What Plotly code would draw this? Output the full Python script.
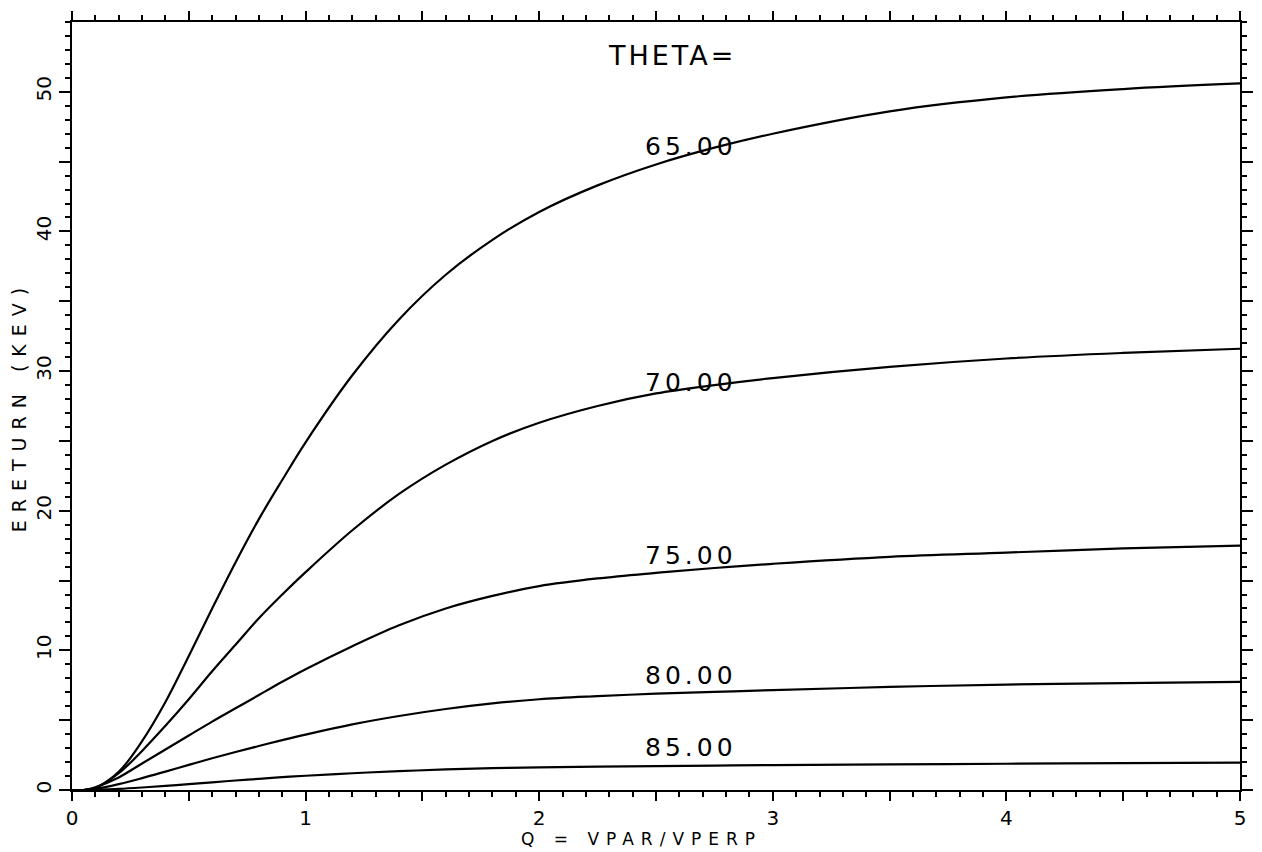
import numpy as np
import plotly.graph_objects as go

# ---- data ----
q = [0, 0.05, 0.1, 0.2, 0.3, 0.4, 0.5, 0.6, 0.7, 0.8, 0.9, 1.0, 1.2, 1.4, 1.6,
     1.8, 2.0, 2.25, 2.5, 2.75, 3.0, 3.5, 4.0, 4.5, 5.0]

e_theta65 = [0, 0.0, 0.15, 1.3, 3.5, 6.3, 9.6, 13.0, 16.3, 19.4, 22.2, 24.9, 29.7,
             33.7, 36.9, 39.4, 41.4, 43.3, 44.8, 46.0, 47.0, 48.6, 49.6, 50.2, 50.6]
e_theta70 = [0, 0.0, 0.15, 1.2, 2.8, 4.6, 6.5, 8.5, 10.4, 12.3, 14.0, 15.6, 18.6,
             21.2, 23.3, 25.0, 26.3, 27.5, 28.4, 29.0, 29.5, 30.3, 30.9, 31.3, 31.6]
e_theta75 = [0, 0.0, 0.2, 0.9, 1.9, 2.9, 3.9, 4.9, 5.85, 6.8, 7.75, 8.65, 10.3,
             11.8, 13.0, 13.9, 14.6, 15.15, 15.55, 15.9, 16.2, 16.7, 17.0, 17.3, 17.5]
e_theta80 = [0, 0.0, 0.08, 0.42, 0.85, 1.32, 1.8, 2.27, 2.72, 3.15, 3.57, 3.97, 4.7,
             5.3, 5.8, 6.2, 6.5, 6.72, 6.9, 7.03, 7.15, 7.38, 7.55, 7.66, 7.75]
e_theta85 = [0, 0.0, 0.02, 0.08, 0.18, 0.3, 0.42, 0.55, 0.68, 0.8, 0.92, 1.02, 1.2,
             1.35, 1.47, 1.56, 1.62, 1.67, 1.71, 1.75, 1.78, 1.83, 1.88, 1.92, 1.96]

curve_labels = ["65.00", "70.00", "75.00", "80.00", "85.00"]
curves = [e_theta65, e_theta70, e_theta75, e_theta80, e_theta85]

x_tickvals = [0, 0.5, 1, 1.5, 2, 2.5, 3, 3.5, 4, 4.5, 5]
x_ticktext = ["0", "", "1", "", "2", "", "3", "", "4", "", "5"]
y_tickvals = [0, 5, 10, 15, 20, 25, 30, 35, 40, 45, 50]
y_ticktext = ["0", "", "10", "", "20", "", "30", "", "40", "", "50"]

title_text = "THETA="
x_title = "Q = VPAR/VPERP"
y_title = "ERETURN (KEV)"

# ---- styling ----
FONT = "DejaVu Sans"
label_q = 2.65
label_shift = [8, 6, 14, 17, 18]


def spaced(text, px):
    return '<span style="letter-spacing:%dpx">%s</span>' % (px, text)


fig = go.Figure()
for vals in curves:
    fig.add_trace(go.Scatter(x=q, y=vals, mode="lines",
                             line=dict(color="black", width=2.2),
                             line_shape="spline", hoverinfo="skip",
                             showlegend=False))

annotations = []
for lab, vals, sh in zip(curve_labels, curves, label_shift):
    yv = float(np.interp(label_q, q, vals))
    annotations.append(dict(x=label_q, y=yv, xref="x", yref="y",
                            text=spaced(lab, 4),
                            showarrow=False, yshift=sh, yanchor="middle",
                            font=dict(family=FONT, size=25, color="black")))
annotations.append(dict(x=0.514, y=0.957, xref="paper", yref="paper",
                        text=spaced(title_text, 3), showarrow=False,
                        yanchor="middle",
                        font=dict(family=FONT, size=27, color="black")))
# x-axis title placed explicitly
annotations.append(dict(x=0.488, y=-0.0635, xref="paper", yref="paper",
                        text=spaced(x_title, 7), showarrow=False,
                        yanchor="middle", xanchor="center",
                        font=dict(family=FONT, size=17, color="black")))

axis_common = dict(showline=True, linecolor="black", linewidth=2,
                   mirror="ticks", ticks="outside", tickwidth=2,
                   tickcolor="black", showgrid=False, zeroline=False,
                   automargin=False)

fig.update_layout(
    width=1262, height=852,
    margin=dict(l=64, r=30, t=14, b=70),
    paper_bgcolor="white", plot_bgcolor="white",
    annotations=annotations,
    xaxis=dict(range=[0, 5], tickvals=x_tickvals, ticktext=x_ticktext,
               ticklen=9,
               tickfont=dict(family=FONT, size=20, color="black"),
               minor=dict(dtick=0.1, ticklen=5, tickwidth=1.5,
                          ticks="outside", tickcolor="black"),
               **axis_common),
    yaxis=dict(range=[0, 55], tickvals=y_tickvals, ticktext=y_ticktext,
               tickangle=-90, ticklen=11,
               tickfont=dict(family=FONT, size=20, color="black"),
               minor=dict(dtick=1, ticklen=5, tickwidth=1.5,
                          ticks="outside", tickcolor="black"),
               title=dict(text=spaced(y_title, 8), standoff=4,
                          font=dict(family=FONT, size=19, color="black")),
               **axis_common),
)

fig.write_html("out.html")
